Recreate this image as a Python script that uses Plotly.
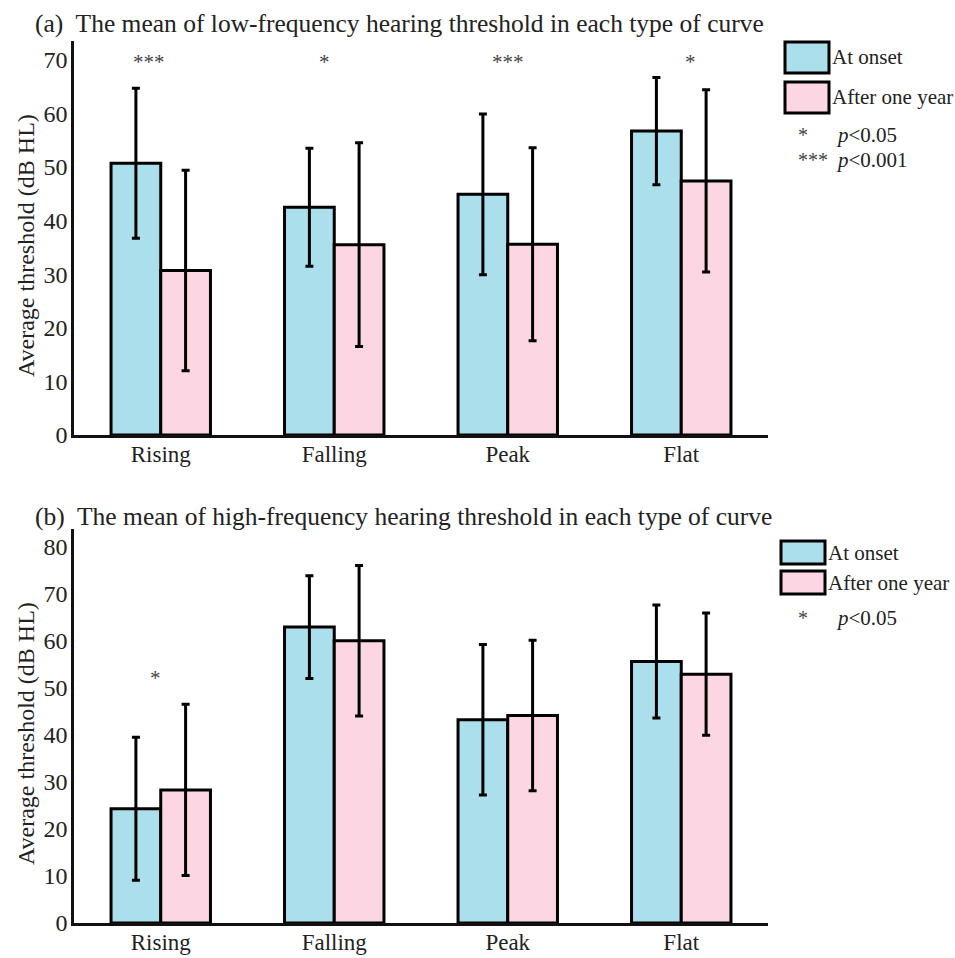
import plotly.graph_objects as go

categories = ["Rising", "Falling", "Peak", "Flat"]

# Panel (a): low-frequency
low_onset = [50.7, 42.5, 44.9, 56.7]
low_onset_sd = [14.0, 11.0, 15.0, 10.0]
low_year = [30.7, 35.5, 35.6, 47.4]
low_year_sd = [18.7, 19.0, 18.0, 17.0]
low_stars = ["***", "*", "***", "*"]

# Panel (b): high-frequency
high_onset = [24.3, 62.9, 43.2, 55.6]
high_onset_sd = [15.2, 10.9, 16.0, 12.0]
high_year = [28.3, 60.0, 44.1, 52.9]
high_year_sd = [18.2, 16.0, 16.0, 13.0]
high_stars = ["*", "", "", ""]

series_names = ["At onset", "After one year"]
y_title = "Average threshold (dB HL)"
title_a = "(a)  The mean of low-frequency hearing threshold in each type of curve"
title_b = "(b)  The mean of high-frequency hearing threshold in each type of curve"

BLUE = "#AADFEB"
PINK = "#FDD6E3"
FONT = "Liberation Serif"
TXT = "#222"

fig = go.Figure()

def add_bars(vals, sds, name, color, xa, ya):
    fig.add_trace(go.Bar(
        x=categories, y=vals, name=name, xaxis=xa, yaxis=ya,
        marker=dict(color=color, line=dict(color="black", width=3)),
        error_y=dict(type="data", array=sds, visible=True, color="black",
                     thickness=3, width=4),
        showlegend=False,
    ))

add_bars(low_onset, low_onset_sd, series_names[0], BLUE, "x", "y")
add_bars(low_year, low_year_sd, series_names[1], PINK, "x", "y")
add_bars(high_onset, high_onset_sd, series_names[0], BLUE, "x2", "y2")
add_bars(high_year, high_year_sd, series_names[1], PINK, "x2", "y2")

axis_common = dict(showline=True, linecolor="#111", linewidth=2.5, showgrid=False,
                   zeroline=False, ticks="", automargin=False)
ytick = dict(tickfont=dict(family=FONT, size=24, color=TXT), ticklabelstandoff=-1)
xtick = dict(tickfont=dict(family=FONT, size=23, color=TXT), ticklabelstandoff=-3)

L, R, T, B = 74, 187, 41, 35
fig.update_layout(
    width=955, height=958,
    margin=dict(l=L, r=R, t=T, b=B, autoexpand=False),
    plot_bgcolor="white", paper_bgcolor="white",
    barmode="group", bargap=0.427, bargroupgap=0,
    font=dict(family=FONT, color=TXT),
    xaxis=dict(domain=[0, 1], anchor="y", range=[-0.5, 3.5], type="category", **axis_common, **xtick),
    yaxis=dict(domain=[0.5533, 1], anchor="x", range=[0, 73.5], dtick=10, **axis_common, **ytick),
    xaxis2=dict(domain=[0, 1], anchor="y2", range=[-0.5, 3.5], type="category", **axis_common, **xtick),
    yaxis2=dict(domain=[0, 0.4464], anchor="x2", range=[0, 83.7], dtick=10, **axis_common, **ytick),
)

W_PLOT = 955 - L - R
H_PLOT = 958 - T - B
def px(x):
    return (x - L) / W_PLOT
def py(y):
    return 1 - (y - T) / H_PLOT

annotations = []
# Titles
annotations.append(dict(text=title_a, xref="paper", yref="paper", x=px(33), y=py(24),
                        xanchor="left", yanchor="middle", showarrow=False,
                        font=dict(family=FONT, size=25.5, color=TXT)))
annotations.append(dict(text=title_b, xref="paper", yref="paper", x=px(33), y=py(516),
                        xanchor="left", yanchor="middle", showarrow=False,
                        font=dict(family=FONT, size=25.5, color=TXT)))
# Y-axis titles
annotations.append(dict(text=y_title, xref="paper", yref="paper", x=px(26), y=py(246),
                        xanchor="center", yanchor="middle", textangle=-90, showarrow=False,
                        font=dict(family=FONT, size=24, color=TXT)))
annotations.append(dict(text=y_title, xref="paper", yref="paper", x=px(26), y=py(734),
                        xanchor="center", yanchor="middle", textangle=-90, showarrow=False,
                        font=dict(family=FONT, size=24, color=TXT)))

star_shift = [-12, -10, 0, 9]
for i, s in enumerate(low_stars):
    if s:
        annotations.append(dict(text=s, x=categories[i], y=69.5, xref="x", yref="y", xshift=star_shift[i],
                                showarrow=False, font=dict(family=FONT, size=21, color="#444")))
for i, s in enumerate(high_stars):
    if s:
        annotations.append(dict(text=s, x=categories[i], y=52.0, xref="x2", yref="y2", xshift=-5,
                                showarrow=False, font=dict(family=FONT, size=21, color="#444")))

shapes = []
def legend_block(top_y, box_h, gap, x0, x1, star_lines):
    for k, (name, color) in enumerate(zip(series_names, [BLUE, PINK])):
        y0 = top_y + k * (box_h + gap)
        shapes.append(dict(type="rect", xref="paper", yref="paper",
                           x0=px(x0), x1=px(x1), y0=py(y0 + box_h), y1=py(y0),
                           fillcolor=color, line=dict(color="black", width=3)))
        annotations.append(dict(text=name, xref="paper", yref="paper", x=px(x1 + 1), y=py(y0 + box_h / 2),
                                xanchor="left", yanchor="middle", showarrow=False,
                                font=dict(family=FONT, size=21, color=TXT)))
    for (sym, label, yy) in star_lines:
        annotations.append(dict(text=sym, xref="paper", yref="paper", x=px(796), y=py(yy),
                                xanchor="left", yanchor="middle", showarrow=False,
                                font=dict(family=FONT, size=20, color="#444")))
        annotations.append(dict(text=label, xref="paper", yref="paper", x=px(834), y=py(yy),
                                xanchor="left", yanchor="middle", showarrow=False,
                                font=dict(family=FONT, size=21, color=TXT)))

legend_block(42, 31, 9, 785, 829, [("*", "<i>p</i>&lt;0.05", 135), ("***", "<i>p</i>&lt;0.001", 160)])
legend_block(541, 23, 7, 781, 825, [("*", "<i>p</i>&lt;0.05", 618)])

fig.update_layout(annotations=annotations, shapes=shapes)
fig.write_html("out.html", config={"displayModeBar": False},
               post_script="document.body.style.margin='0';document.body.style.overflow='hidden';")
